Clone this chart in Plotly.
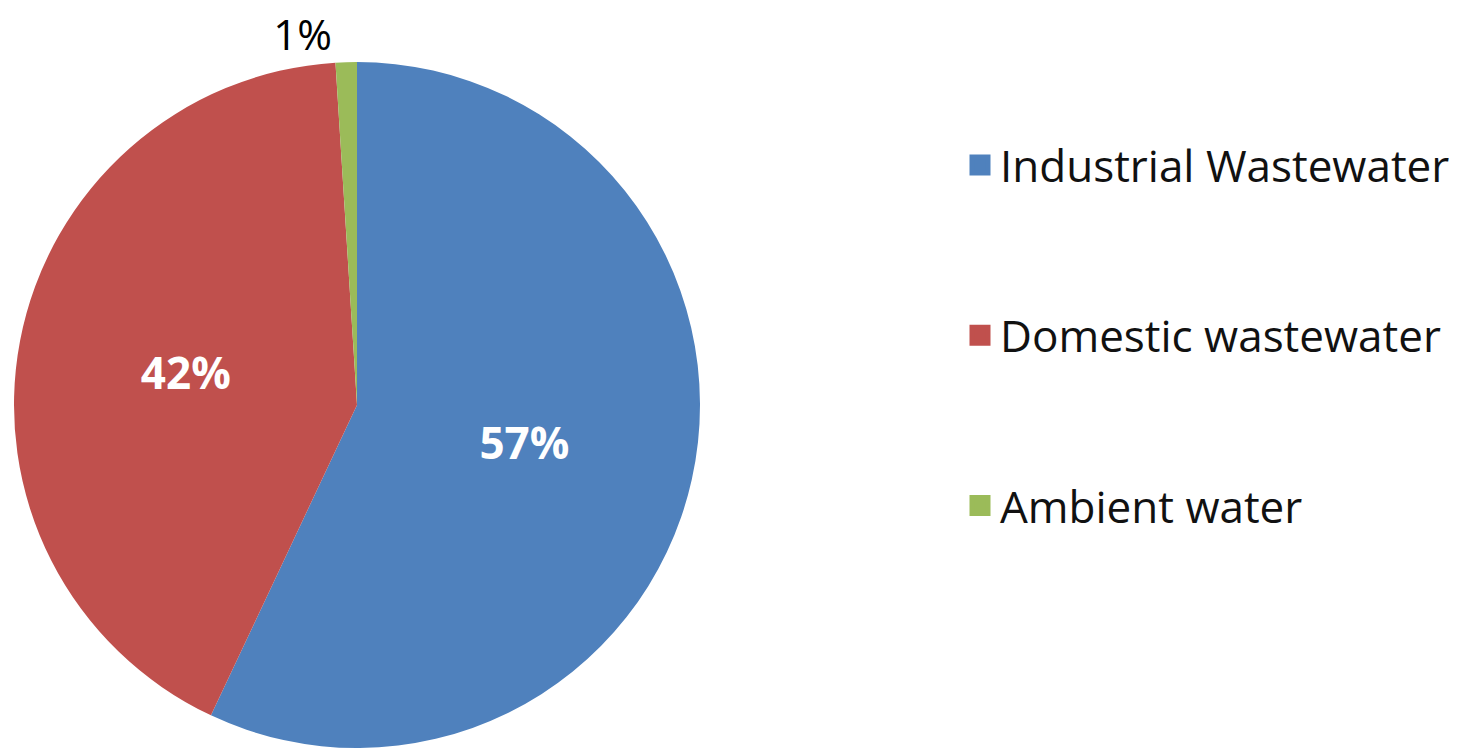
import plotly.graph_objects as go

labels = ["Industrial Wastewater", "Domestic wastewater", "Ambient water"]
values = [57, 42, 1]
colors = ["#4F81BD", "#C0504D", "#9BBB59"]
text_pos = ["inside", "inside", "outside"]

W, H = 1459, 749
cx, cy, r = 349, 397, 343

fig = go.Figure()
fig.add_trace(go.Pie(
    labels=labels, values=values, sort=False, direction="clockwise", rotation=0,
    marker=dict(colors=colors, line=dict(width=0)),
    textinfo="percent", texttemplate="%{percent:.0%}",
    textposition=text_pos, insidetextorientation="horizontal",
    insidetextfont=dict(family="Open Sans", size=44, color="white", weight="bold"),
    outsidetextfont=dict(family="Open Sans", size=42, color="black"),
    domain=dict(x=[(cx - r) / W, (cx + r) / W], y=[(H - cy - r) / H, (H - cy + r) / H]),
    showlegend=False, automargin=False,
))
for i, (lab, col) in enumerate(zip(labels, colors)):
    fig.add_trace(go.Scatter(
        x=[None], y=[None], mode="markers", name=lab, legendgroup=f"g{i}",
        marker=dict(symbol="square", size=16, color=col, line=dict(width=5, color=col)),
    ))

fig.update_layout(
    width=W, height=H, margin=dict(l=0, r=0, t=0, b=0),
    paper_bgcolor="white", plot_bgcolor="white",
    xaxis=dict(visible=False), yaxis=dict(visible=False),
    legend=dict(x=952 / W, xanchor="left", y=1 - 122 / H, yanchor="top",
                font=dict(family="Open Sans", size=44, color="#111111"),
                tracegroupgap=110, bgcolor="rgba(0,0,0,0)"),
)
fig.write_html("out.html")
